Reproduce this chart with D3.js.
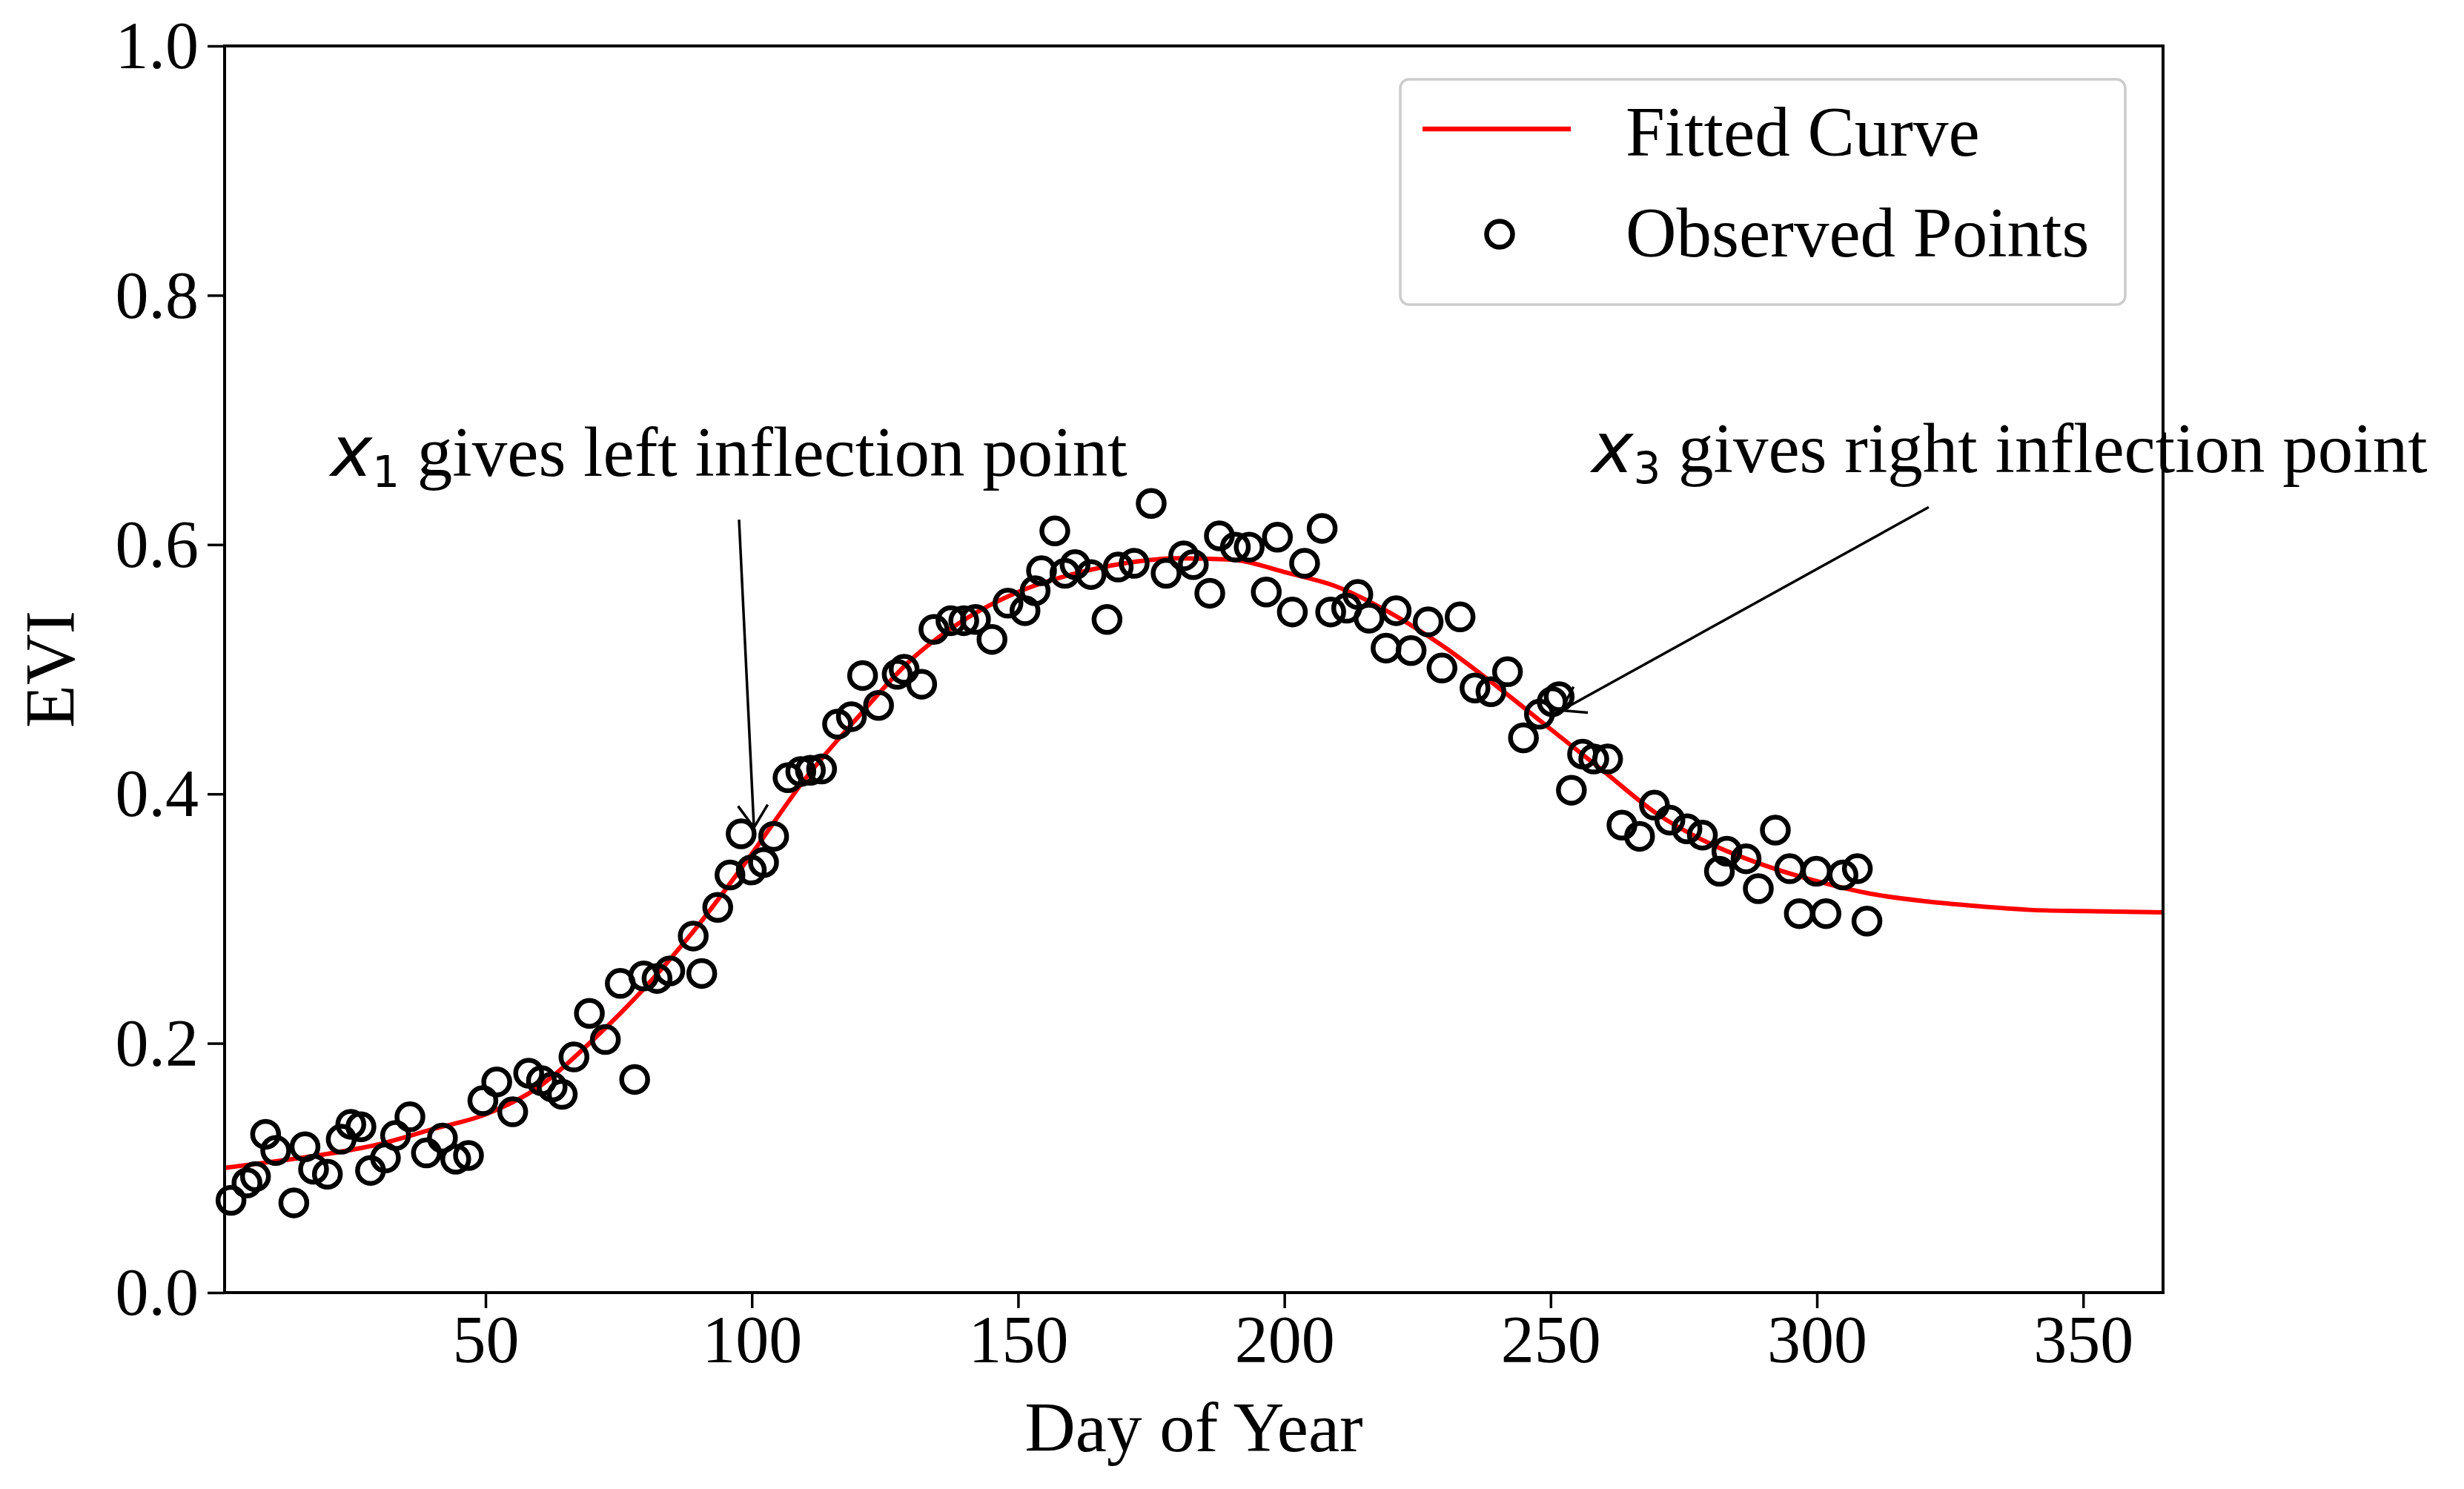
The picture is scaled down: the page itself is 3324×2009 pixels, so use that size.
<!DOCTYPE html>
<html>
<head>
<meta charset="utf-8">
<script src="https://cdn.jsdelivr.net/npm/d3@7"></script>
<style>
  body { margin: 0; background: #fff; }
  svg { display: block; }
</style>
</head>
<body>
<svg id="chart" width="3324" height="2009"></svg>
<script>
//Observed EVI points
var obsDays = [2.2, 5.2, 6.8, 8.7, 10.6, 14, 16.1, 17.7, 20.3, 22.9, 24.7, 26.6, 28.4, 31.2, 33.1, 35.8, 38.9, 41.9, 44.4, 46.8,
  49.5, 52.1, 55.1, 58.1, 60.5, 62.5, 64.4, 66.6, 69.5, 72.5, 75.3, 78, 79.7, 82.2, 84.6, 89, 90.6, 93.6, 95.9, 98,
  99.9, 102.2, 104.1, 106.8, 109.2, 111, 113.1, 116.1, 118.7, 120.8, 123.8, 127.3, 128.6, 131.9, 134.2, 137.4, 139.8, 142, 145.1, 148.1,
  151.3, 153.2, 154.4, 156.9, 158.8, 160.7, 163.7, 166.7, 168.8, 171.8, 175, 177.8, 181.1, 182.9, 186, 187.8, 190.8, 193.4, 196.6, 198.7,
  201.5, 203.8, 207.1, 208.7, 211.7, 213.8, 215.9, 219.1, 221, 223.8, 227, 229.6, 233, 235.8, 238.8, 241.9, 244.9, 247.9, 250.3, 251.6,
  253.9, 256, 258.1, 260.7, 263.4, 266.7, 269.5, 272.4, 275.6, 278.5, 281.7, 283.1, 286.7, 289, 292.2, 294.9, 296.7, 299.9, 301.7, 304.9,
  307.6, 309.4];
var obsEvi = [0.074, 0.088, 0.093, 0.127, 0.114, 0.072, 0.117, 0.099, 0.095, 0.123, 0.135, 0.133, 0.098, 0.108, 0.126, 0.141, 0.112, 0.124, 0.107, 0.110,
  0.154, 0.169, 0.145, 0.176, 0.170, 0.165, 0.159, 0.189, 0.224, 0.203, 0.248, 0.171, 0.254, 0.252, 0.258, 0.286, 0.256, 0.309, 0.335, 0.368,
  0.339, 0.345, 0.366, 0.413, 0.418, 0.419, 0.420, 0.456, 0.462, 0.495, 0.471, 0.496, 0.500, 0.488, 0.532, 0.539, 0.539, 0.540, 0.524, 0.553,
  0.547, 0.563, 0.579, 0.611, 0.577, 0.584, 0.576, 0.540, 0.582, 0.585, 0.633, 0.577, 0.591, 0.584, 0.561, 0.607, 0.598, 0.598, 0.562, 0.606,
  0.546, 0.585, 0.613, 0.546, 0.549, 0.560, 0.541, 0.517, 0.547, 0.515, 0.538, 0.501, 0.542, 0.485, 0.482, 0.498, 0.445, 0.464, 0.474, 0.478,
  0.403, 0.432, 0.428, 0.428, 0.375, 0.366, 0.391, 0.379, 0.372, 0.367, 0.338, 0.354, 0.348, 0.324, 0.371, 0.340, 0.304, 0.338, 0.304, 0.335,
  0.340, 0.298];

//Fitted curve
var fitDays = [1, 10, 20, 30, 40, 50, 60, 70, 80, 90, 100, 110, 120, 130, 140, 150, 160, 170, 180, 190,
  200, 210, 220, 230, 240, 250, 260, 270, 280, 290, 300, 310, 320, 330, 340, 350, 365];
var fitEvi = [0.100, 0.105, 0.111, 0.119, 0.131, 0.143, 0.165, 0.202, 0.245, 0.295, 0.352, 0.412, 0.462, 0.508, 0.540, 0.562, 0.576, 0.585, 0.589, 0.588,
  0.578, 0.566, 0.545, 0.518, 0.486, 0.452, 0.418, 0.384, 0.360, 0.343, 0.330, 0.320, 0.314, 0.310, 0.307, 0.306, 0.305];

//Ticks
var xTicks = [50, 100, 150, 200, 250, 300, 350];
var yTicks = [0.0, 0.2, 0.4, 0.6, 0.8, 1.0];

//Annotations: label pieces, text anchor (data), arrow tail and tip (data)
var annoVar = ['x', 'x'];
var annoSub = ['1', '3'];
var annoText = [' gives left inflection point', ' gives right inflection point'];
var annoTextAt = [[20.9, 0.655], [257.7, 0.658]];
var annoTail = [[97.6, 0.620], [321, 0.630]];
var annoTip = [[100.4, 0.373], [252, 0.467]];

var legendLabels = ['Fitted Curve', 'Observed Points'];

var serif = "'Liberation Serif', 'Times New Roman', serif";

function drawChart() {
  var svg = d3.select('#chart');
  var left = 303, right = 2918, top = 62, bottom = 1744;

  var x = d3.scaleLinear().domain([1, 365]).range([left, right]);
  var y = d3.scaleLinear().domain([0, 1]).range([bottom, top]);

  svg.append('defs').append('clipPath').attr('id', 'plotClip')
    .append('rect')
    .attr('x', left).attr('y', top)
    .attr('width', right - left).attr('height', bottom - top);

  //Fitted curve
  var fit = fitDays.map(function(d, i) { return [d, fitEvi[i]]; });
  var line = d3.line()
    .x(function(d) { return x(d[0]); })
    .y(function(d) { return y(d[1]); })
    .curve(d3.curveMonotoneX);

  svg.append('path')
    .datum(fit)
    .attr('clip-path', 'url(#plotClip)')
    .attr('d', line)
    .attr('fill', 'none')
    .attr('stroke', '#ff0000')
    .attr('stroke-width', 6);

  //Observed points
  var obs = obsDays.map(function(d, i) { return [d, obsEvi[i]]; });
  svg.append('g')
    .selectAll('circle')
    .data(obs)
    .enter().append('circle')
    .attr('cx', function(d) { return x(d[0]); })
    .attr('cy', function(d) { return y(d[1]); })
    .attr('r', 17.5)
    .attr('fill', 'none')
    .attr('stroke', '#000')
    .attr('stroke-width', 6.5);

  //Axes
  var xAxis = svg.append('g')
    .attr('transform', 'translate(0,' + bottom + ')')
    .call(d3.axisBottom(x).tickValues(xTicks).tickSize(21).tickFormat(d3.format('d')));
  xAxis.select('.domain').remove();
  xAxis.selectAll('line').attr('stroke', '#000').attr('stroke-width', 3.5);
  xAxis.selectAll('text')
    .attr('y', 94).attr('dy', null)
    .attr('font-family', serif).attr('font-size', 90).attr('fill', '#000');

  var yAxis = svg.append('g')
    .attr('transform', 'translate(' + left + ',0)')
    .call(d3.axisLeft(y).tickValues(yTicks).tickSize(23).tickFormat(d3.format('.1f')));
  yAxis.select('.domain').remove();
  yAxis.selectAll('line').attr('stroke', '#000').attr('stroke-width', 3.5);
  yAxis.selectAll('text')
    .attr('x', -35).attr('dy', '0.33em')
    .attr('font-family', serif).attr('font-size', 90).attr('fill', '#000');

  //Axis titles
  svg.append('text')
    .attr('x', (left + right) / 2).attr('y', 1958)
    .attr('text-anchor', 'middle')
    .attr('font-family', serif).attr('font-size', 95)
    .text('Day of Year');

  svg.append('text')
    .attr('transform', 'translate(100,' + ((top + bottom) / 2) + ') rotate(-90)')
    .attr('text-anchor', 'middle')
    .attr('font-family', serif).attr('font-size', 95)
    .text('EVI');

  //Annotations
  annoText.forEach(function(t, i) {
    var txt = svg.append('text')
      .attr('x', x(annoTextAt[i][0])).attr('y', y(annoTextAt[i][1]))
      .attr('font-family', serif).attr('font-size', 95).attr('fill', '#000');
    txt.append('tspan')
      .attr('font-family', "'DejaVu Sans', sans-serif")
      .attr('font-style', 'italic')
      .attr('font-size', 95)
      .text(annoVar[i]);
    txt.append('tspan')
      .attr('font-family', "'DejaVu Sans', sans-serif")
      .attr('font-size', 58)
      .attr('dy', 15)
      .text(annoSub[i]);
    txt.append('tspan')
      .attr('dy', -15)
      .text(t);

    drawArrow(svg, [x(annoTail[i][0]), y(annoTail[i][1])], [x(annoTip[i][0]), y(annoTip[i][1])]);
  });

  //Legend
  var lg = svg.append('g');
  lg.append('rect')
    .attr('x', 1889).attr('y', 107)
    .attr('width', 978).attr('height', 304)
    .attr('rx', 12)
    .attr('fill', '#fff').attr('fill-opacity', 0.8)
    .attr('stroke', '#cccccc').attr('stroke-width', 3.5);
  lg.append('line')
    .attr('x1', 1919).attr('x2', 2119)
    .attr('y1', 174).attr('y2', 174)
    .attr('stroke', '#ff0000').attr('stroke-width', 6.5);
  lg.append('circle')
    .attr('cx', 2023).attr('cy', 316).attr('r', 17.5)
    .attr('fill', 'none').attr('stroke', '#000').attr('stroke-width', 6.5);
  lg.selectAll('text.lab')
    .data(legendLabels)
    .enter().append('text')
    .attr('class', 'lab')
    .attr('x', 2193)
    .attr('y', function(d, i) { return i === 0 ? 210 : 346; })
    .attr('font-family', serif).attr('font-size', 95)
    .text(function(d) { return d; });

  //Frame (spines) on top
  svg.append('rect')
    .attr('x', left).attr('y', top)
    .attr('width', right - left).attr('height', bottom - top)
    .attr('fill', 'none')
    .attr('stroke', '#000')
    .attr('stroke-width', 4);
}

//Thin arrow with an open "->" head
function drawArrow(svg, tail, tip) {
  var dx = tip[0] - tail[0], dy = tip[1] - tail[1];
  var len = Math.sqrt(dx * dx + dy * dy);
  var ux = dx / len, uy = dy / len;
  var back = 30, side = 20;
  svg.append('line')
    .attr('x1', tail[0]).attr('y1', tail[1])
    .attr('x2', tip[0]).attr('y2', tip[1])
    .attr('stroke', '#000').attr('stroke-width', 3.5);
  svg.append('path')
    .attr('d', 'M' + (tip[0] - ux * back - uy * side) + ',' + (tip[1] - uy * back + ux * side) +
      'L' + tip[0] + ',' + tip[1] +
      'L' + (tip[0] - ux * back + uy * side) + ',' + (tip[1] - uy * back - ux * side))
    .attr('fill', 'none')
    .attr('stroke', '#000').attr('stroke-width', 3.5);
}

drawChart();
</script>
</body>
</html>
